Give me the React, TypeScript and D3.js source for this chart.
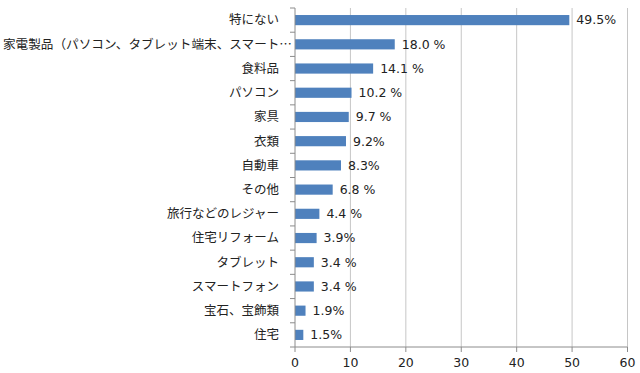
import * as d3 from "d3";

const categories = [
  "特にない",
  "家電製品（パソコン、タブレット端末、スマート…",
  "食料品",
  "パソコン",
  "家具",
  "衣類",
  "自動車",
  "その他",
  "旅行などのレジャー",
  "住宅リフォーム",
  "タブレット",
  "スマートフォン",
  "宝石、宝飾類",
  "住宅",
];
const values = [49.5, 18.0, 14.1, 10.2, 9.7, 9.2, 8.3, 6.8, 4.4, 3.9, 3.4, 3.4, 1.9, 1.5];
const valueLabels = [
  "49.5%", "18.0 %", "14.1 %", "10.2 %", "9.7 %", "9.2%", "8.3%",
  "6.8 %", "4.4 %", "3.9%", "3.4 %", "3.4 %", "1.9%", "1.5%",
];
const xTicks = [0, 10, 20, 30, 40, 50, 60];

const W = 640;
const H = 373;
const left = 295;
const right = 627.5;
const top = 8;
const bottom = 347;

function App() {
  const x = d3.scaleLinear().domain([0, 60]).range([left, right]);
  const y = d3.scaleBand<string>().domain(categories).range([top, bottom]).paddingInner(0.58).paddingOuter(0.29);
  const band = (bottom - top) / categories.length;
  const jpFont = "'Noto Sans CJK JP', sans-serif";
  const numFont = "'DejaVu Sans', Verdana, sans-serif";

  return (
    <svg width={W} height={H} style={{ position: "absolute", left: 0, top: 0, background: "#fff" }}>
      {xTicks.slice(1).map((t) => (
        <line key={"g" + t} x1={x(t)} x2={x(t)} y1={top} y2={bottom} stroke="#c6c6c6" strokeWidth={1} />
      ))}
      {categories.map((c, i) => (
        <rect key={"b" + c} x={x(0)} y={y(c)} width={x(values[i]) - x(0)} height={y.bandwidth()} fill="#4f81bd" />
      ))}
      <line x1={left} x2={left} y1={top} y2={bottom} stroke="#8c8c8c" />
      <line x1={left} x2={right} y1={bottom} y2={bottom} stroke="#8c8c8c" />
      {d3.range(categories.length + 1).map((i) => (
        <line key={"yt" + i} x1={left - 5} x2={left} y1={top + i * band} y2={top + i * band} stroke="#8c8c8c" />
      ))}
      {xTicks.map((t) => (
        <g key={"xt" + t}>
          <line x1={x(t)} x2={x(t)} y1={bottom} y2={bottom + 5} stroke="#8c8c8c" />
          <text x={x(t)} y={bottom + 20} textAnchor="middle" fontSize={12.5} fontFamily={numFont} fill="#222">
            {t}
          </text>
        </g>
      ))}
      {categories.map((c, i) => {
        const cy = (y(c) as number) + y.bandwidth() / 2;
        const truncated = c.endsWith("…");
        return (
          <text
            key={"l" + c}
            x={truncated ? 292 : 279}
            y={cy}
            dy="0.35em"
            textAnchor="end"
            fontSize={12.5}
            fontFamily={jpFont}
            fill="#222"
            textLength={truncated ? 289 : undefined}
            lengthAdjust={truncated ? "spacingAndGlyphs" : undefined}
          >
            {c}
          </text>
        );
      })}
      {categories.map((c, i) => (
        <text
          key={"v" + c}
          x={x(values[i]) + 7}
          y={(y(c) as number) + y.bandwidth() / 2}
          dy="0.35em"
          fontSize={12.5}
          fontFamily={numFont}
          fill="#222"
        >
          {valueLabels[i]}
        </text>
      ))}
    </svg>
  );
}

export default App;
